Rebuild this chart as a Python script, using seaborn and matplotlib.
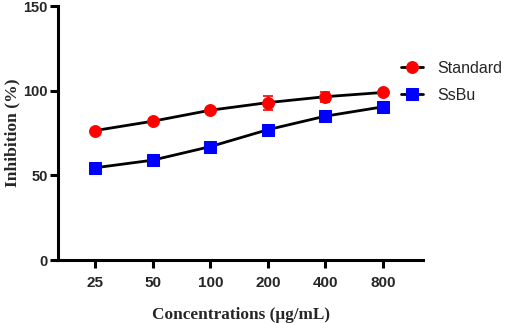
import numpy as np
import pandas as pd
import matplotlib
matplotlib.use("Agg")
import matplotlib.pyplot as plt
import seaborn as sns

# data
concentrations = ["25", "50", "100", "200", "400", "800"]
standard = [76.5, 82.0, 88.5, 93.0, 96.5, 99.0]
standard_err = [1.0, 1.2, 1.5, 4.2, 3.0, 1.0]
ssbu = [54.5, 59.0, 67.0, 77.0, 85.0, 90.5]
ssbu_err = [1.0, 1.0, 1.0, 1.0, 1.0, 1.0]

sns.set_style("ticks")
plt.rcParams['font.family'] = ['Liberation Sans', 'DejaVu Sans']

fig = plt.figure(figsize=(5.05, 3.23), dpi=100)
ax = fig.add_axes([0.115, 0.195, 0.723, 0.786])

pos = np.arange(len(concentrations))
df = pd.DataFrame({'pos': np.concatenate([pos, pos]),
                   'val': standard + ssbu,
                   'group': ['Standard'] * 6 + ['SsBu'] * 6})

# error bars first
ax.errorbar(pos, standard, yerr=standard_err, fmt='none', ecolor='red',
            elinewidth=1.2, capsize=3.5, capthick=1.2, zorder=2)
ax.errorbar(pos, ssbu, yerr=ssbu_err, fmt='none', ecolor='blue',
            elinewidth=1.2, capsize=3.5, capthick=1.2, zorder=2)

sns.lineplot(data=df[df.group == 'Standard'], x='pos', y='val', ax=ax,
             color='black', linewidth=2.0, marker='o', markersize=8.5,
             markerfacecolor='red', markeredgecolor='red', label='Standard', zorder=3)
sns.lineplot(data=df[df.group == 'SsBu'], x='pos', y='val', ax=ax,
             color='black', linewidth=2.0, marker='s', markersize=8,
             markerfacecolor='blue', markeredgecolor='blue', label='SsBu', zorder=3)

ax.set_xlim(-0.645, 5.7)
ax.set_ylim(0, 150)
ax.set_xticks(pos)
ax.set_xticklabels(concentrations)
ax.set_yticks([0, 50, 100, 150])

for lab in ax.get_xticklabels():
    lab.set_fontweight('bold')
    lab.set_fontsize(11)
for lab in ax.get_yticklabels():
    lab.set_fontweight('bold')
    lab.set_fontsize(10.5)

ax.set_xlabel('Concentrations (μg/mL)', family=['Liberation Serif', 'DejaVu Serif'],
              fontweight='bold', fontsize=12.4, labelpad=12)
ax.set_ylabel('Inhibition (%)', family=['Liberation Serif', 'DejaVu Serif'],
              fontweight='bold', fontsize=12.6, labelpad=2)

sns.despine(ax=ax)
for s in ['left', 'bottom']:
    ax.spines[s].set_linewidth(2.2)
    ax.spines[s].set_color('black')
ax.tick_params(axis='both', width=2.2, length=5.5, color='black')
ax.tick_params(axis='x', pad=6)
ax.tick_params(axis='y', pad=2)

leg = ax.legend(loc='upper left', bbox_to_anchor=(401 / 505, 1 - 61 / 323),
                bbox_transform=fig.transFigure, frameon=False,
                fontsize=11.5, handlelength=1.4, handletextpad=0.85,
                labelspacing=0.75, borderaxespad=0.0, borderpad=0.0)

fig.savefig('out.png', dpi=100)
